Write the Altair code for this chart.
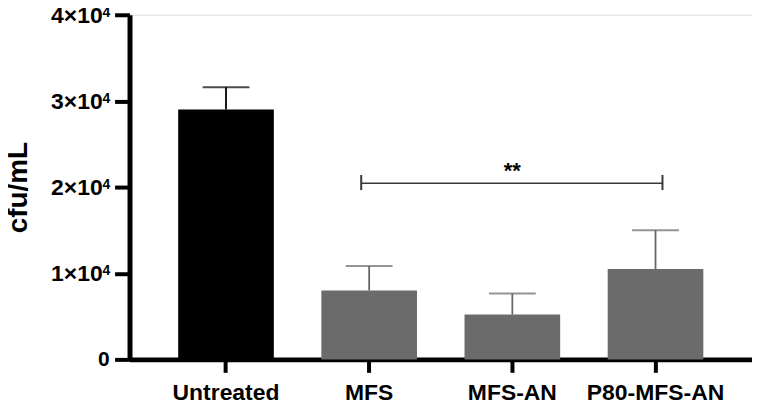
import altair as alt
import pandas as pd

groups = ["Untreated", "MFS", "MFS-AN", "P80-MFS-AN"]
means = [29000, 8000, 5200, 10500]
sds = [2600, 2850, 2450, 4500]
bar_colors = ["#000000", "#6b6b6b", "#6b6b6b", "#6b6b6b"]
err_colors = ["#000000", "#666666", "#666666", "#666666"]

y_ticks = [0, 10000, 20000, 30000, 40000]
y_tick_base = ["0", "1×10", "2×10", "3×10", "4×10"]
y_tick_exp = ["", "4", "4", "4", "4"]

sig_start = "MFS"
sig_end = "P80-MFS-AN"
sig_mid = "MFS-AN"
sig_y = 20450
sig_cap_lo = 19650
sig_cap_hi = 21400
sig_label = "**"
sig_text_y = 21900

df = pd.DataFrame({
    "group": groups,
    "mean": means,
    "top": [m + s for m, s in zip(means, sds)],
    "bar_color": bar_colors,
    "err_color": err_colors,
})

label_font = "Liberation Sans"
xscale = alt.Scale(domain=groups, paddingInner=0.332, paddingOuter=0.34)
yscale = alt.Scale(domain=[0, 40000], nice=False)

xenc = alt.X(
    "group:N",
    scale=xscale,
    axis=alt.Axis(
        title=None, labelAngle=0, labelFontSize=23, labelFontWeight="bold",
        labelFont=label_font, labelColor="black", labelPadding=9,
        tickSize=13, tickWidth=4, tickColor="black",
        domainWidth=5, domainColor="black",
    ),
)
yenc = alt.Y(
    "mean:Q",
    scale=yscale,
    axis=alt.Axis(
        title="cfu/mL", titleFontSize=28, titleFont=label_font, titleFontWeight="bold",
        titleColor="black", titleAngle=270, titleX=-103, titleY=173,
        titleBaseline="alphabetic", titleAlign="center",
        values=y_ticks, grid=False, labels=False,
        tickSize=15, tickWidth=4, tickColor="black",
        domainWidth=5, domainColor="black",
    ),
)

base = alt.Chart(df)

bars = base.mark_bar().encode(
    x=xenc,
    y=yenc,
    color=alt.Color("bar_color:N", scale=None),
)

err = base.mark_rule(strokeWidth=1.8).encode(
    x=alt.X("group:N", scale=xscale),
    y=alt.Y("mean:Q", scale=yscale),
    y2="top:Q",
    color=alt.Color("err_color:N", scale=None),
)

caps = base.mark_tick(size=47, thickness=2).encode(
    x=alt.X("group:N", scale=xscale),
    y=alt.Y("top:Q", scale=yscale),
    color=alt.Color("err_color:N", scale=None),
)

# y tick labels with superscript exponent
tick_df = pd.DataFrame({"v": y_ticks, "base": y_tick_base, "exp": y_tick_exp})
tick_base_lbl = alt.Chart(tick_df).transform_filter("datum.exp != ''").mark_text(
    font=label_font, fontSize=23, fontWeight="bold", color="black",
    align="right", baseline="alphabetic", dy=8,
).encode(x=alt.value(-27), y=alt.Y("v:Q", scale=yscale), text="base:N")
tick_exp_lbl = alt.Chart(tick_df).transform_filter("datum.exp != ''").mark_text(
    font=label_font, fontSize=14, fontWeight="bold", color="black",
    align="left", baseline="alphabetic", dy=2,
).encode(x=alt.value(-27), y=alt.Y("v:Q", scale=yscale), text="exp:N")
tick_zero_lbl = alt.Chart(tick_df).transform_filter("datum.exp == ''").mark_text(
    font=label_font, fontSize=21, fontWeight="bold", color="black",
    align="right", baseline="alphabetic", dy=7,
).encode(x=alt.value(-20), y=alt.Y("v:Q", scale=yscale), text="base:N")

sig_df = pd.DataFrame({"a": [sig_start], "b": [sig_end], "y": [sig_y]})
sig_line = alt.Chart(sig_df).mark_rule(color="#3a3a3a", strokeWidth=1.6, xOffset=-8, x2Offset=7).encode(
    x=alt.X("a:N", scale=xscale),
    x2="b:N",
    y=alt.Y("y:Q", scale=yscale),
)

cap_df = pd.DataFrame({"g": [sig_start, sig_end], "lo": [sig_cap_lo] * 2, "hi": [sig_cap_hi] * 2})
cap_l = alt.Chart(cap_df.iloc[[0]]).mark_rule(color="#3a3a3a", strokeWidth=2, xOffset=-8).encode(
    x=alt.X("g:N", scale=xscale), y=alt.Y("lo:Q", scale=yscale), y2="hi:Q")
cap_r = alt.Chart(cap_df.iloc[[1]]).mark_rule(color="#3a3a3a", strokeWidth=2, xOffset=7).encode(
    x=alt.X("g:N", scale=xscale), y=alt.Y("lo:Q", scale=yscale), y2="hi:Q")

txt_df = pd.DataFrame({"g": [sig_mid], "y": [sig_text_y], "t": [sig_label]})
sig_txt = alt.Chart(txt_df).mark_text(fontSize=22, fontWeight="bold", font=label_font,
                                      baseline="middle", color="black", dy=0).encode(
    x=alt.X("g:N", scale=xscale), y=alt.Y("y:Q", scale=yscale), text="t:N")

chart = alt.layer(bars, err, caps, sig_line, cap_l, cap_r, sig_txt,
                  tick_base_lbl, tick_exp_lbl, tick_zero_lbl).properties(
    width=625, height=346,
    autosize=alt.AutoSizeParams(type="none"),
    padding={"left": 122, "top": 6, "right": 0, "bottom": 44},
).configure_view(stroke=None).configure(background="white")

chart.save("out.html", embed_options={"renderer": "svg", "actions": False})
